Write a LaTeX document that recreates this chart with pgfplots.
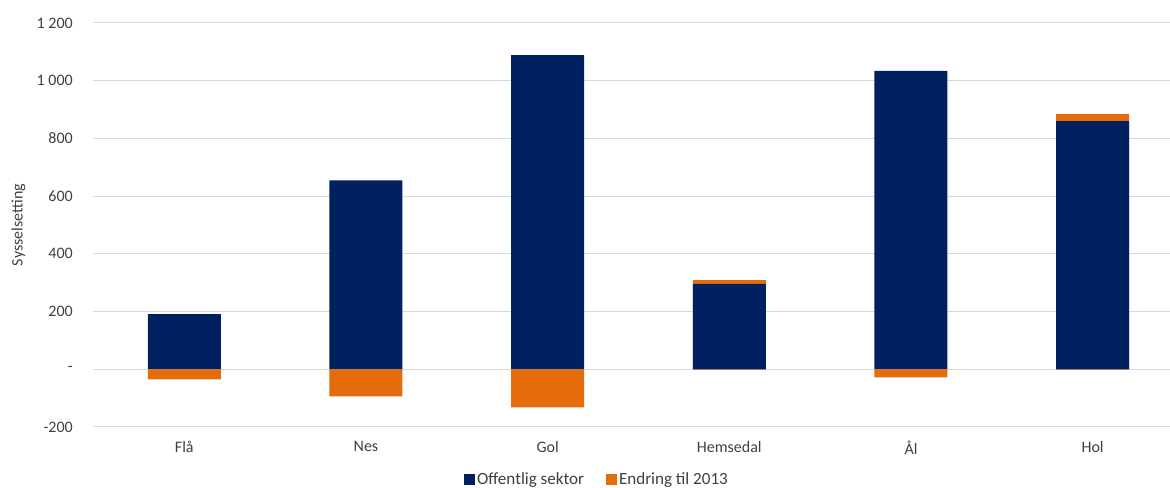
\documentclass[border=0pt]{standalone}
\usepackage{pgfplots}
\pgfplotsset{compat=1.18}
\usepackage{fontspec}
\setmainfont{Carlito}
\definecolor{navy}{HTML}{002060}
\definecolor{orng}{HTML}{E46C0A}
\definecolor{gridc}{HTML}{D9D9D9}
\definecolor{txt}{HTML}{404040}
\pgfplotsset{sqlegend/.style={legend image code/.code={\fill[##1] (0pt,-4.1pt) rectangle (8.2pt,4.1pt);}}}
\begin{document}
\begin{tikzpicture}
\path[use as bounding box] (-70.1pt,-45.75pt) rectangle (807.4pt,320.25pt);
\begin{axis}[
  scale only axis,
  width=817.5pt, height=303pt,
  xmin=-0.5, xmax=5.5, ymin=-200, ymax=1200,
  axis line style={draw=none},
  major tick length=0pt,
  ymajorgrids, grid style={gridc, line width=0.75pt},
  xtick={0,1,2,3,4,5},
  xticklabels={Flå,Nes,Gol,Hemsedal,Ål,Hol},
  ytick={-200,0,200,400,600,800,1000,1200},
  yticklabels={-200,-,200,400,600,800,1~000,1~200},
  yticklabel style={anchor=east, xshift=-12pt},
  xticklabel style={yshift=-7pt},
  tick label style={font=\fontsize{12pt}{14pt}\selectfont, text=txt},
  ylabel={Sysselsetting},
  ylabel style={at={(axis description cs:-0.0688,0.5)}, anchor=center, font=\fontsize{12pt}{14pt}\selectfont, text=txt},
  legend style={at={(0.462,-0.131)}, anchor=center, draw=none, legend columns=2,
    font=\fontsize{12.8pt}{15pt}\selectfont, text=txt,
    /tikz/every even column/.append style={column sep=15pt},
    nodes={inner sep=1.5pt}},
  ybar, bar width=54.75pt, bar shift=0pt,
]
% orange positive parts (drawn as total height, blue drawn over)
\addplot[fill=orng, draw=none, forget plot] coordinates {(3,309) (5,884)};
\addplot[fill=navy, draw=none, sqlegend] coordinates {(0,191) (1,655) (2,1089) (3,296) (4,1034) (5,860)};
\addlegendentry{Offentlig sektor}
\addplot[fill=orng, draw=none, sqlegend] coordinates {(0,-35) (1,-94) (2,-132) (4,-28)};
\addlegendentry{Endring til 2013}
\end{axis}
\end{tikzpicture}
\end{document}
